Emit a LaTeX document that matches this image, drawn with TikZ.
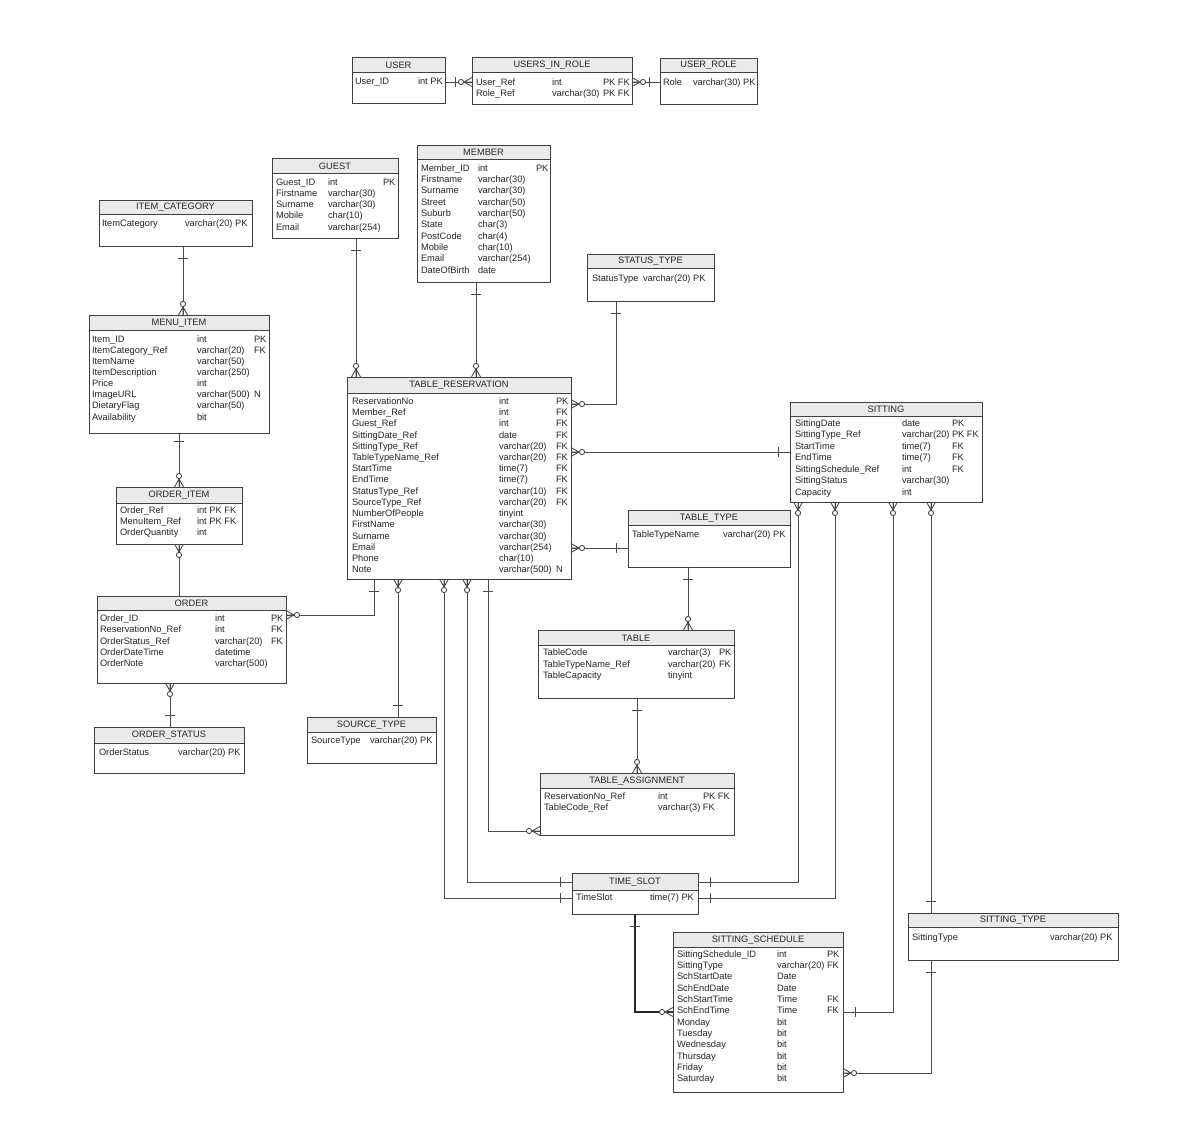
\documentclass[tikz,border=0pt]{standalone}
\usepackage{fontspec}
\setmainfont{Liberation Sans}
\usepackage{array}
\definecolor{bord}{HTML}{404040}
\definecolor{hdrfill}{HTML}{EAEAEA}
\definecolor{txt}{HTML}{262626}
\definecolor{lnc}{HTML}{4A4A4A}
\tikzset{
  ebox/.style={fill=white, inner sep=0pt, outer sep=0pt},
  bline/.style={draw=bord, line width=0.9pt},
  htext/.style={text=txt, font=\fontsize{9.3}{11}\selectfont, inner sep=0pt},
  conn/.style={draw=lnc, line width=0.9pt},
  thickconn/.style={draw=black!85, line width=1.6pt},
  zmany/.pic={\draw[conn] (0,4.5) -- (8,0) -- (0,-4.5) (0,0) -- (8,0);
              \draw[conn, fill=white] (11,0) circle[radius=2.6pt];},
  zmanyb/.pic={\draw[conn] (0,4.5) -- (8,0) -- (0,-4.5) (0,0) -- (8,0);
              \draw[conn, fill=white] (11,0) circle[radius=2.6pt];
              \draw[conn] (17,-5) -- (17,5);},
  one/.pic={\draw[conn] (12,-5) -- (12,5);},
  onenear/.pic={\draw[conn] (8,-5) -- (8,5);},
}
% #1 name, #2 x1, #3 y1, #4 x2, #5 y2, #6 header bottom, #7 title
\newcommand\entity[7]{%
  \node[ebox, anchor=north west, minimum width={(#4-#2)*1pt}, minimum height={(#5-#3)*1pt}] (#1) at (#2,#3) {};
  \fill[hdrfill] (#2,#3) rectangle (#4,#6);
  \draw[bline] (#2,#6) -- (#4,#6);
  \draw[bline] (#1.north west) rectangle (#1.south east);
  \node[htext] (#1-title) at ({(#2+#4)/2},{(#3+#6)/2+0.5}) {#7};
}
% #1 name, #2 x name, #3 y centre of first row, #4 x type, #5 x flag, #6 pitch, #7 rows
\newcommand\rows[7]{%
  \node[anchor=north west, inner sep=0pt, outer sep=0pt, text=txt, font=\fontsize{9.3}{#6}\selectfont] (#1) at (#2,{#3-0.7*#6+3.3})
  {\begin{tabular}{@{}w{l}{\dimexpr#4pt-#2pt\relax}@{}w{l}{\dimexpr#5pt-#4pt\relax}@{}l@{}}#7\end{tabular}};
}
\begin{document}
\begin{tikzpicture}[x=1pt,y=-1pt]
\fill[white] (0,0) rectangle (1177,1142);
\useasboundingbox (0,0) rectangle (1177,1142);

% ---------- entities ----------
\entity{user}{352}{57}{445}{103}{72}{USER}
\rows{user-b}{355}{81}{418}{500}{11}{User\_ID & int PK & \\}
\entity{uir}{472}{57}{632}{104}{72}{USERS\_IN\_ROLE}
\rows{uir-b}{476}{82}{552}{603}{11}{User\_Ref & int & PK FK\\ Role\_Ref & varchar(30) & PK FK\\}
\entity{urole}{660}{58}{757}{104}{72}{USER\_ROLE}
\rows{urole-b}{663}{82}{693}{800}{11}{Role & varchar(30) PK & \\}

\entity{guest}{272}{158}{398}{238}{173}{GUEST}
\rows{guest-b}{276}{182}{328}{383}{11.2}{Guest\_ID & int & PK\\ Firstname & varchar(30) & \\ Surname & varchar(30) & \\ Mobile & char(10) & \\ Email & varchar(254) & \\}

\entity{member}{417}{145}{550}{282}{159}{MEMBER}
\rows{member-b}{421}{168}{478}{536}{11.3}{Member\_ID & int & PK\\ Firstname & varchar(30) & \\ Surname & varchar(30) & \\ Street & varchar(50) & \\ Suburb & varchar(50) & \\ State & char(3) & \\ PostCode & char(4) & \\ Mobile & char(10) & \\ Email & varchar(254) & \\ DateOfBirth & date & \\}

\entity{itemcat}{99}{200}{252}{246}{214}{ITEM\_CATEGORY}
\rows{itemcat-b}{102}{223}{185}{300}{11}{ItemCategory & varchar(20) PK & \\}

\entity{menuitem}{89}{315}{269}{433}{330}{MENU\_ITEM}
\rows{menuitem-b}{92}{339}{197}{254}{11.1}{Item\_ID & int & PK\\ ItemCategory\_Ref & varchar(20) & FK\\ ItemName & varchar(50) & \\ ItemDescription & varchar(250) & \\ Price & int & \\ ImageURL & varchar(500) & N\\ DietaryFlag & varchar(50) & \\ Availability & bit & \\}

\entity{orderitem}{116}{487}{242}{544}{503}{ORDER\_ITEM}
\rows{orderitem-b}{120}{510}{197}{300}{11.2}{Order\_Ref & int PK FK & \\ MenuItem\_Ref & int PK FK & \\ OrderQuantity & int & \\}

\entity{order}{97}{596}{286}{683}{610}{ORDER}
\rows{order-b}{100}{618}{215}{271}{11.4}{Order\_ID & int & PK\\ ReservationNo\_Ref & int & FK\\ OrderStatus\_Ref & varchar(20) & FK\\ OrderDateTime & datetime & \\ OrderNote & varchar(500) & \\}

\entity{orderstatus}{94}{727}{244}{773}{743}{ORDER\_STATUS}
\rows{orderstatus-b}{99}{752}{178}{300}{11}{OrderStatus & varchar(20) PK & \\}

\entity{tr}{347}{377}{571}{579}{393}{TABLE\_RESERVATION}
\rows{tr-b}{352}{401}{499}{556}{11.24}{ReservationNo & int & PK\\ Member\_Ref & int & FK\\ Guest\_Ref & int & FK\\ SittingDate\_Ref & date & FK\\ SittingType\_Ref & varchar(20) & FK\\ TableTypeName\_Ref & varchar(20) & FK\\ StartTime & time(7) & FK\\ EndTime & time(7) & FK\\ StatusType\_Ref & varchar(10) & FK\\ SourceType\_Ref & varchar(20) & FK\\ NumberOfPeople & tinyint & \\ FirstName & varchar(30) & \\ Surname & varchar(30) & \\ Email & varchar(254) & \\ Phone & char(10) & \\ Note & varchar(500) & N\\}

\entity{statustype}{587}{254}{714}{301}{268}{STATUS\_TYPE}
\rows{statustype-b}{592}{278}{643}{760}{11}{StatusType & varchar(20) PK & \\}

\entity{sitting}{790}{402}{982}{502}{416}{SITTING}
\rows{sitting-b}{795}{423}{902}{952}{11.5}{SittingDate & date & PK\\ SittingType\_Ref & varchar(20) & PK FK\\ StartTime & time(7) & FK\\ EndTime & time(7) & FK\\ SittingSchedule\_Ref & int & FK\\ SittingStatus & varchar(30) & \\ Capacity & int & \\}

\entity{tabletype}{628}{510}{790}{567}{525}{TABLE\_TYPE}
\rows{tabletype-b}{632}{534}{723}{850}{11}{TableTypeName & varchar(20) PK & \\}

\entity{table}{538}{630}{734}{698}{645}{TABLE}
\rows{table-b}{543}{652}{668}{719}{11.7}{TableCode & varchar(3) & PK\\ TableTypeName\_Ref & varchar(20) & FK\\ TableCapacity & tinyint & \\}

\entity{ta}{540}{773}{734}{835}{788}{TABLE\_ASSIGNMENT}
\rows{ta-b}{544}{796}{658}{703}{11.3}{ReservationNo\_Ref & int & PK FK\\ TableCode\_Ref & varchar(3) FK & \\}

\entity{source}{307}{717}{436}{763}{732}{SOURCE\_TYPE}
\rows{source-b}{311}{740}{370}{500}{11}{SourceType & varchar(20) PK & \\}

\entity{timeslot}{572}{873}{698}{914}{890}{TIME\_SLOT}
\rows{timeslot-b}{576}{897}{650}{750}{11}{TimeSlot & time(7) PK & \\}

\entity{sittype}{908}{913}{1118}{960}{927}{SITTING\_TYPE}
\rows{sittype-b}{912}{937}{1050}{1150}{11}{SittingType & varchar(20) PK & \\}

\entity{sched}{673}{932}{843}{1092}{947}{SITTING\_SCHEDULE}
\rows{sched-b}{677}{954}{777}{827}{11.33}{SittingSchedule\_ID & int & PK\\ SittingType & varchar(20) & FK\\ SchStartDate & Date & \\ SchEndDate & Date & \\ SchStartTime & Time & FK\\ SchEndTime & Time & FK\\ Monday & bit & \\ Tuesday & bit & \\ Wednesday & bit & \\ Thursday & bit & \\ Friday & bit & \\ Saturday & bit & \\}

% ---------- connectors ----------
\draw[conn] ([yshift=-25pt]user.north east) -- ([yshift=-25pt]uir.north west);
\draw[conn] ([yshift=-25pt]uir.north east) -- ([yshift=-24pt]urole.north west);
\draw[conn] ([xshift=84pt]guest.south west) -- ([xshift=9pt]tr.north west);
\draw[conn] ([xshift=59pt]member.south west) -- ([xshift=129pt]tr.north west);
\draw[conn] ([xshift=29pt]statustype.south west) |- ([yshift=-27pt]tr.north east);
\draw[conn] ([yshift=-75pt]tr.north east) -- ([yshift=-50pt]sitting.north west);
\draw[conn] ([yshift=-171pt]tr.north east) -- ([yshift=-38pt]tabletype.north west);
\draw[conn] ([xshift=60pt]tabletype.south west) -- ([xshift=150pt]table.north west);
\draw[conn] ([xshift=99pt]table.south west) -- ([xshift=97pt]ta.north west);
\draw[conn] ([xshift=141pt]tr.south west) |- ([yshift=-58pt]ta.north west);
\draw[conn] ([xshift=27pt]tr.south west) |- ([yshift=-19pt]order.north east);
\draw[conn] ([xshift=51pt]tr.south west) -- ([xshift=91pt]source.north west);
\draw[conn] ([xshift=97pt]tr.south west) |- ([yshift=-25pt]timeslot.north west);
\draw[conn] ([xshift=120pt]tr.south west) |- ([yshift=-9pt]timeslot.north west);
\draw[conn] ([xshift=8pt]sitting.south west) |- ([yshift=-9pt]timeslot.north east);
\draw[conn] ([xshift=45pt]sitting.south west) |- ([yshift=-25pt]timeslot.north east);
\draw[conn] ([xshift=103pt]sitting.south west) |- ([yshift=-80pt]sched.north east);
\draw[conn] ([xshift=141pt]sitting.south west) -- ([xshift=23pt]sittype.north west);
\draw[conn] ([xshift=23pt]sittype.south west) |- ([yshift=-141pt]sched.north east);
\draw[thickconn] ([xshift=63pt]timeslot.south west) |- ([yshift=-80pt]sched.north west);
\draw[conn] ([xshift=84pt]itemcat.south west) -- ([xshift=94pt]menuitem.north west);
\draw[conn] ([xshift=90pt]menuitem.south west) -- ([xshift=63pt]orderitem.north west);
\draw[conn] ([xshift=63pt]orderitem.south west) -- ([xshift=82pt]order.north west);
\draw[conn] ([xshift=73pt]order.south west) -- ([xshift=76pt]orderstatus.north west);

% ---------- end marks ----------
\path ([yshift=-25pt]uir.north west) pic[rotate=180]{zmanyb};
\path ([yshift=-25pt]uir.north east) pic{zmanyb};
\path ([xshift=84pt]guest.south west) pic[rotate=-90]{one};
\path ([xshift=9pt]tr.north west) pic[rotate=90]{zmany};
\path ([xshift=59pt]member.south west) pic[rotate=-90]{one};
\path ([xshift=129pt]tr.north west) pic[rotate=90]{zmany};
\path ([xshift=29pt]statustype.south west) pic[rotate=-90]{one};
\path ([yshift=-27pt]tr.north east) pic{zmany};
\path ([yshift=-75pt]tr.north east) pic{zmany};
\path ([yshift=-50pt]sitting.north west) pic[rotate=180]{one};
\path ([yshift=-171pt]tr.north east) pic{zmany};
\path ([yshift=-38pt]tabletype.north west) pic[rotate=180]{one};
\path ([xshift=60pt]tabletype.south west) pic[rotate=-90]{one};
\path ([xshift=150pt]table.north west) pic[rotate=90]{zmany};
\path ([xshift=99pt]table.south west) pic[rotate=-90]{one};
\path ([xshift=97pt]ta.north west) pic[rotate=90]{zmany};
\path ([xshift=141pt]tr.south west) pic[rotate=-90]{one};
\path ([yshift=-58pt]ta.north west) pic[rotate=180]{zmany};
\path ([xshift=27pt]tr.south west) pic[rotate=-90]{one};
\path ([yshift=-19pt]order.north east) pic{zmany};
\path ([xshift=51pt]tr.south west) pic[rotate=-90]{zmany};
\path ([xshift=91pt]source.north west) pic[rotate=90]{one};
\path ([xshift=97pt]tr.south west) pic[rotate=-90]{zmany};
\path ([yshift=-25pt]timeslot.north west) pic[rotate=180]{one};
\path ([xshift=120pt]tr.south west) pic[rotate=-90]{zmany};
\path ([yshift=-9pt]timeslot.north west) pic[rotate=180]{one};
\path ([xshift=8pt]sitting.south west) pic[rotate=-90]{zmany};
\path ([yshift=-9pt]timeslot.north east) pic{one};
\path ([xshift=45pt]sitting.south west) pic[rotate=-90]{zmany};
\path ([yshift=-25pt]timeslot.north east) pic{one};
\path ([xshift=103pt]sitting.south west) pic[rotate=-90]{zmany};
\path ([yshift=-80pt]sched.north east) pic{one};
\path ([xshift=141pt]sitting.south west) pic[rotate=-90]{zmany};
\path ([xshift=23pt]sittype.north west) pic[rotate=90]{one};
\path ([xshift=23pt]sittype.south west) pic[rotate=-90]{one};
\path ([yshift=-141pt]sched.north east) pic{zmany};
\path ([xshift=63pt]timeslot.south west) pic[rotate=-90]{one};
\path ([yshift=-80pt]sched.north west) pic[rotate=180]{zmany};
\path ([xshift=84pt]itemcat.south west) pic[rotate=-90]{one};
\path ([xshift=94pt]menuitem.north west) pic[rotate=90]{zmany};
\path ([xshift=90pt]menuitem.south west) pic[rotate=-90]{onenear};
\path ([xshift=63pt]orderitem.north west) pic[rotate=90]{zmany};
\path ([xshift=63pt]orderitem.south west) pic[rotate=-90]{zmany};
\path ([xshift=73pt]order.south west) pic[rotate=-90]{zmany};
\path ([xshift=76pt]orderstatus.north west) pic[rotate=90]{one};
\end{tikzpicture}
\end{document}
